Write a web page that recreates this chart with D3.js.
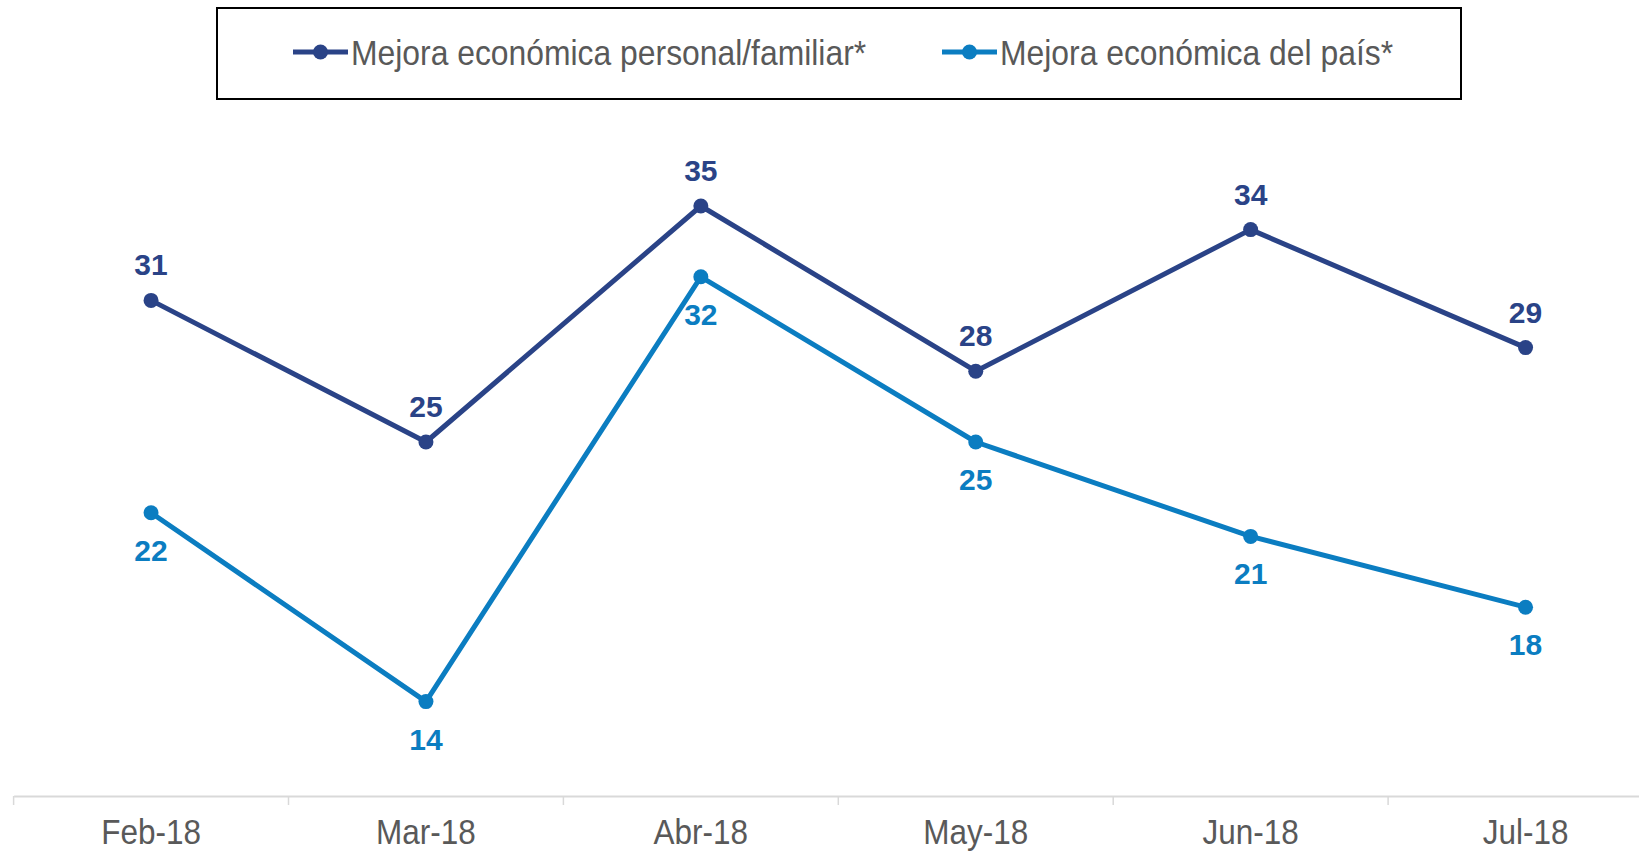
<!DOCTYPE html>
<html><head><meta charset="utf-8">
<script src="https://cdn.jsdelivr.net/npm/d3@7/dist/d3.min.js"></script>
<style>body{margin:0;background:#fff}svg{display:block}</style>
</head><body>
<svg id="c" width="1639" height="852"></svg>
<script>
const categories = ["Feb-18","Mar-18","Abr-18","May-18","Jun-18","Jul-18"];
const personal = [31,25,35,28,34,29];
const pais = [22,14,32,25,21,18];
const seriesNames = ["Mejora económica personal/familiar*","Mejora económica del país*"];
const colors = ["#2A4387","#0B7DC1"];

const svg = d3.select("#c");
const x = d3.scaleBand().domain(categories).range([13.6, 13.6 + 6*274.9]).padding(0);
const y = d3.scaleLinear().domain([10, 40]).range([796, 88]);
const cx = d => x(d) + x.bandwidth()/2;

// axis
const ax = svg.append("g").attr("transform","translate(0,796)")
  .call(d3.axisBottom(x).tickSize(0).tickPadding(0));
ax.select(".domain").attr("stroke","#D9D9D9").attr("stroke-width",2);
ax.selectAll(".tick text")
  .attr("y", 48.5).attr("dy", 0)
  .attr("transform","scale(0.9,1)")
  .attr("fill","#595959")
  .style("font-family","'Liberation Sans', Arial, sans-serif")
  .style("font-size","35px");
// boundary ticks
svg.append("g").selectAll("line").data(categories.concat(["_end"]))
  .join("line")
  .attr("x1", (d,i) => i < categories.length ? x(d) : x.range()[1])
  .attr("x2", (d,i) => i < categories.length ? x(d) : x.range()[1])
  .attr("y1", 796).attr("y2", 805)
  .attr("stroke","#D9D9D9").attr("stroke-width",1.5);

const series = [
  {name: seriesNames[0], values: personal, color: colors[0], above: true},
  {name: seriesNames[1], values: pais, color: colors[1], above: false}
];
const line = d3.line().x((d,i) => cx(categories[i])).y(d => y(d));

series.slice().reverse().forEach(s => {
  const g = svg.append("g");
  g.append("path").datum(s.values).attr("d", line)
    .attr("fill","none").attr("stroke", s.color).attr("stroke-width",5)
    .attr("stroke-linejoin","round");
  g.selectAll("circle").data(s.values).join("circle")
    .attr("cx",(d,i)=>cx(categories[i])).attr("cy", d=>y(d)).attr("r",7.5)
    .attr("fill", s.color);
});
series.forEach(s => {
  svg.append("g").selectAll("text").data(s.values).join("text")
    .attr("x",(d,i)=>cx(categories[i]))
    .attr("y", d => y(d) + (s.above ? -25 : 48))
    .attr("text-anchor","middle")
    .attr("fill", s.color)
    .style("font-family","'Liberation Sans', Arial, sans-serif")
    .style("font-weight","bold").style("font-size","30px")
    .text(d => d);
});

// legend
svg.append("rect").attr("x",217).attr("y",8).attr("width",1244).attr("height",91)
  .attr("fill","none").attr("stroke","#000").attr("stroke-width",2);
const legX = [293, 942];
series.forEach((s,i) => {
  const g = svg.append("g").attr("transform",`translate(${legX[i]},52)`);
  g.append("line").attr("x1",0).attr("x2",55).attr("y1",0).attr("y2",0)
    .attr("stroke", s.color).attr("stroke-width",5);
  g.append("circle").attr("cx",27.5).attr("cy",0).attr("r",7.5).attr("fill",s.color);
  g.append("text").attr("transform","translate(58,13) scale(0.885,1)")
    .attr("fill","#595959")
    .style("font-family","'Liberation Sans', Arial, sans-serif")
    .style("font-size","36px")
    .text(s.name);
});
</script>
</body></html>
